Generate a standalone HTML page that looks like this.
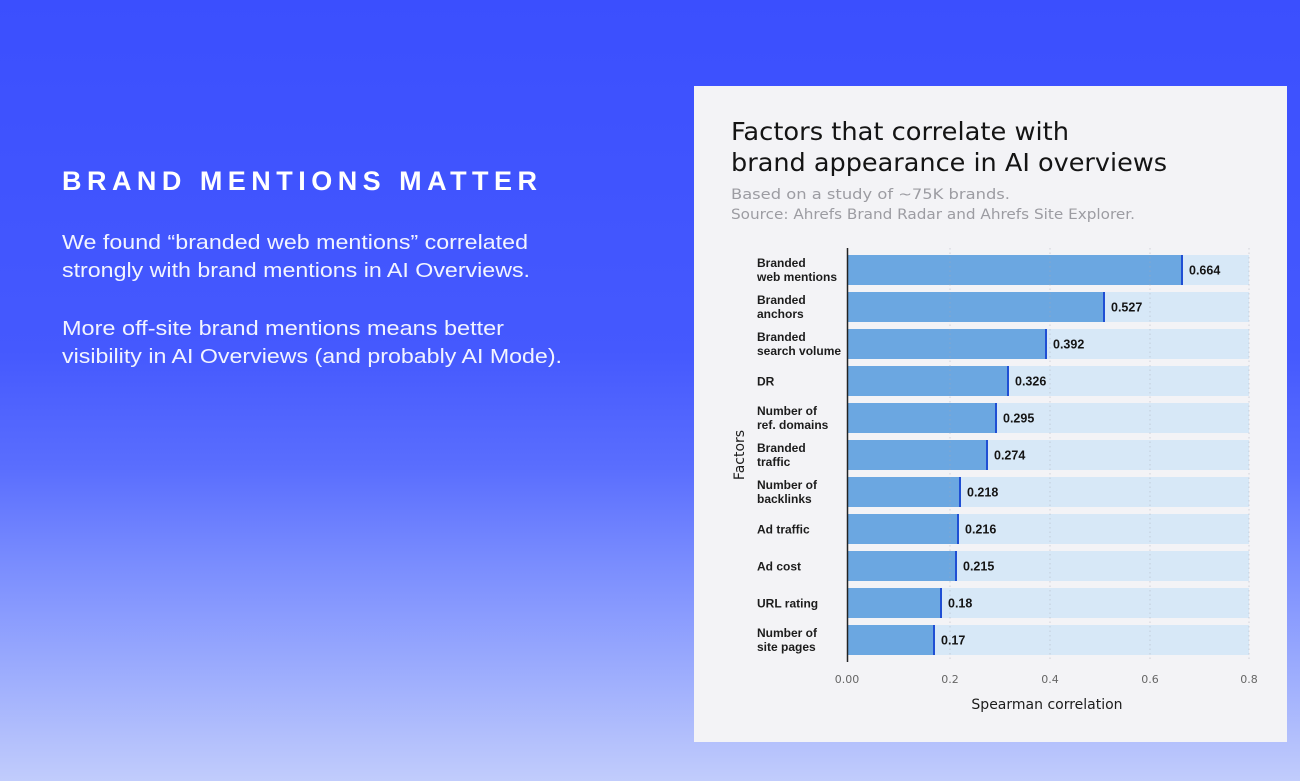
<!DOCTYPE html>
<html><head><meta charset="utf-8"><style>
html,body{margin:0;padding:0;width:1300px;height:781px;overflow:hidden;}
svg{display:block;}
</style></head><body>
<svg width="1300" height="781" viewBox="0 0 1300 781" xmlns="http://www.w3.org/2000/svg">
<defs>
<linearGradient id="bg" x1="0" y1="0" x2="0" y2="1">
<stop offset="0" stop-color="#3b4ffe"/>
<stop offset="0.45" stop-color="#4559fe"/>
<stop offset="0.6" stop-color="#5a6efe"/>
<stop offset="0.72" stop-color="#798cfe"/>
<stop offset="0.86" stop-color="#9cacfd"/>
<stop offset="1" stop-color="#c1ccfc"/>
</linearGradient>
</defs>
<rect x="0" y="0" width="1300" height="781" fill="url(#bg)"/>

<!-- Left text -->
<g font-family="Liberation Sans, DejaVu Sans, sans-serif" fill="#ffffff">
<text x="62" y="190" font-size="27" font-weight="bold" textLength="475" lengthAdjust="spacing">BRAND MENTIONS MATTER</text>
<g font-size="20" fill="#f2f4ff">
<text x="62" y="249" textLength="466" lengthAdjust="spacingAndGlyphs">We found “branded web mentions” correlated</text>
<text x="62" y="277" textLength="468" lengthAdjust="spacingAndGlyphs">strongly with brand mentions in AI Overviews.</text>
<text x="62" y="335" textLength="442" lengthAdjust="spacingAndGlyphs">More off-site brand mentions means better</text>
<text x="62" y="363" textLength="500" lengthAdjust="spacingAndGlyphs">visibility in AI Overviews (and probably AI Mode).</text>
</g>
</g>

<!-- Card -->
<rect x="694" y="86" width="593" height="656" fill="#f3f3f6"/>

<g font-family="DejaVu Sans, Liberation Sans, sans-serif">
<text x="731" y="140" font-size="25" fill="#141414" textLength="338" lengthAdjust="spacingAndGlyphs">Factors that correlate with</text>
<text x="731" y="171" font-size="25" fill="#141414" textLength="436" lengthAdjust="spacingAndGlyphs">brand appearance in AI overviews</text>
<text x="731" y="199" font-size="14" fill="#9c9ca2" textLength="279" lengthAdjust="spacingAndGlyphs">Based on a study of ~75K brands.</text>
<text x="731" y="219" font-size="14" fill="#9c9ca2" textLength="404" lengthAdjust="spacingAndGlyphs">Source: Ahrefs Brand Radar and Ahrefs Site Explorer.</text>
</g>

<!-- Light background bars -->
<g fill="#d7e8f7">
<rect x="848" y="255" width="401" height="30"/>
<rect x="848" y="292" width="401" height="30"/>
<rect x="848" y="329" width="401" height="30"/>
<rect x="848" y="366" width="401" height="30"/>
<rect x="848" y="403" width="401" height="30"/>
<rect x="848" y="440" width="401" height="30"/>
<rect x="848" y="477" width="401" height="30"/>
<rect x="848" y="514" width="401" height="30"/>
<rect x="848" y="551" width="401" height="30"/>
<rect x="848" y="588" width="401" height="30"/>
<rect x="848" y="625" width="401" height="30"/>
</g>
<!-- Value bars -->
<g fill="#6ba7e1">
<rect x="848" y="255" width="334" height="30"/>
<rect x="848" y="292" width="256" height="30"/>
<rect x="848" y="329" width="198" height="30"/>
<rect x="848" y="366" width="160" height="30"/>
<rect x="848" y="403" width="148" height="30"/>
<rect x="848" y="440" width="139" height="30"/>
<rect x="848" y="477" width="112" height="30"/>
<rect x="848" y="514" width="110" height="30"/>
<rect x="848" y="551" width="108" height="30"/>
<rect x="848" y="588" width="93" height="30"/>
<rect x="848" y="625" width="86" height="30"/>
</g>
<!-- Markers -->
<g fill="#1f4fd4">
<rect x="1181" y="255" width="2" height="30"/>
<rect x="1103" y="292" width="2" height="30"/>
<rect x="1045" y="329" width="2" height="30"/>
<rect x="1007" y="366" width="2" height="30"/>
<rect x="995" y="403" width="2" height="30"/>
<rect x="986" y="440" width="2" height="30"/>
<rect x="959" y="477" width="2" height="30"/>
<rect x="957" y="514" width="2" height="30"/>
<rect x="955" y="551" width="2" height="30"/>
<rect x="940" y="588" width="2" height="30"/>
<rect x="933" y="625" width="2" height="30"/>
</g>
<!-- Gridlines -->
<g stroke="#a8a8b4" stroke-opacity="0.45" stroke-width="1" stroke-dasharray="1.5 3">
<line x1="950" y1="248" x2="950" y2="662"/>
<line x1="1050" y1="248" x2="1050" y2="662"/>
<line x1="1150" y1="248" x2="1150" y2="662"/>
<line x1="1249" y1="248" x2="1249" y2="662"/>
</g>
<!-- Axis -->
<line x1="847.5" y1="248" x2="847.5" y2="662" stroke="#222" stroke-width="1.5"/>

<!-- Value labels -->
<g font-family="Liberation Sans, DejaVu Sans, sans-serif" font-size="12.5" font-weight="bold" fill="#151515">
<text x="1189" y="274.5">0.664</text>
<text x="1111" y="311.5">0.527</text>
<text x="1053" y="348.5">0.392</text>
<text x="1015" y="385.5">0.326</text>
<text x="1003" y="422.5">0.295</text>
<text x="994" y="459.5">0.274</text>
<text x="967" y="496.5">0.218</text>
<text x="965" y="533.5">0.216</text>
<text x="963" y="570.5">0.215</text>
<text x="948" y="607.5">0.18</text>
<text x="941" y="644.5">0.17</text>
</g>

<!-- Category labels -->
<g font-family="Liberation Sans, DejaVu Sans, sans-serif" font-size="12" font-weight="bold" fill="#1c1c1c">
<text x="757" y="267">Branded</text><text x="757" y="281">web mentions</text>
<text x="757" y="304">Branded</text><text x="757" y="318">anchors</text>
<text x="757" y="341">Branded</text><text x="757" y="355">search volume</text>
<text x="757" y="385.5">DR</text>
<text x="757" y="415">Number of</text><text x="757" y="429">ref. domains</text>
<text x="757" y="452">Branded</text><text x="757" y="466">traffic</text>
<text x="757" y="489">Number of</text><text x="757" y="503">backlinks</text>
<text x="757" y="533.5">Ad traffic</text>
<text x="757" y="570.5">Ad cost</text>
<text x="757" y="607.5">URL rating</text>
<text x="757" y="637">Number of</text><text x="757" y="651">site pages</text>
</g>

<!-- Tick labels -->
<g font-family="DejaVu Sans, Liberation Sans, sans-serif" font-size="11" fill="#666" text-anchor="middle">
<text x="847" y="683">0.00</text>
<text x="950" y="683">0.2</text>
<text x="1050" y="683">0.4</text>
<text x="1150" y="683">0.6</text>
<text x="1249" y="683">0.8</text>
</g>
<text x="1047" y="709" font-family="DejaVu Sans, Liberation Sans, sans-serif" font-size="14" fill="#1c1c1c" text-anchor="middle">Spearman correlation</text>
<text transform="translate(744,455) rotate(-90)" font-family="DejaVu Sans, Liberation Sans, sans-serif" font-size="14" fill="#1c1c1c" text-anchor="middle">Factors</text>
</svg>
</body></html>
